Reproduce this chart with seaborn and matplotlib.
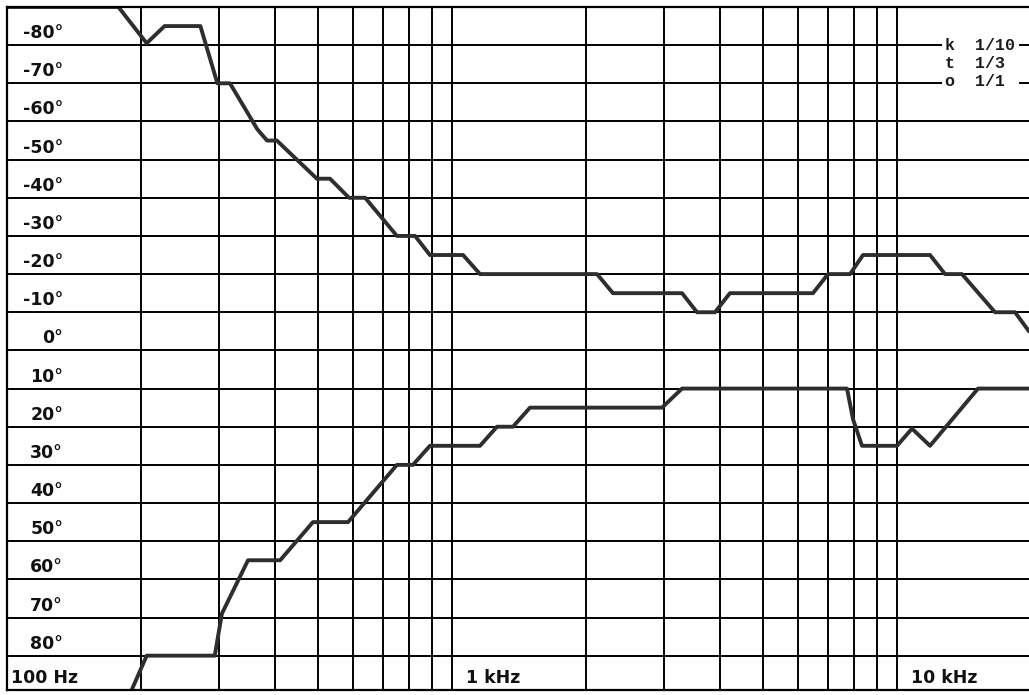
import numpy as np
import pandas as pd
import matplotlib
matplotlib.use("Agg")
import matplotlib.pyplot as plt
from matplotlib.ticker import LogLocator, NullFormatter
import seaborn as sns

# ---- data ----
upper_freq = [100, 178, 206, 226, 272, 297, 317, 365, 384, 404, 497, 532, 587, 638,
              752, 826, 892, 1059, 1156, 2118, 2300, 3288, 3553, 3899, 4213, 6474,
              6998, 7843, 8387, 11864, 12821, 13996, 16608, 18418, 19800]
upper_phase = [-90, -90, -80.5, -85, -85, -70, -70, -58, -55, -55, -45, -45, -40, -40,
               -30, -30, -25, -25, -20, -20, -15, -15, -10, -10, -15, -15,
               -20, -20, -25, -25, -20, -20, -10, -10, -5]

lower_freq = [189, 206, 293, 304, 348, 411, 487, 584, 752, 817, 892, 1156, 1262, 1371,
              1497, 2965, 3288, 7721, 7963, 8343, 10000, 10807, 11864, 15206, 19800]
lower_phase = [90, 80, 80, 69, 55, 55, 45, 45, 30, 30, 25, 25, 20, 20,
               15, 15, 10, 10, 18, 25, 25, 20.5, 25, 10, 10]

y_tick_values = [-80, -70, -60, -50, -40, -30, -20, -10, 0, 10, 20, 30, 40, 50, 60, 70, 80]
x_tick_values = [100, 1000, 10000]
x_tick_labels = ["100 Hz", "1 kHz", "10 kHz"]
legend_labels = ["k  1/10", "t  1/3 ", "o  1/1 "]
legend_phase = [-80, -75.3, -70.4]

df = pd.concat([
    pd.DataFrame({"freq": upper_freq, "phase": upper_phase, "curve": "upper"}),
    pd.DataFrame({"freq": lower_freq, "phase": lower_phase, "curve": "lower"}),
], ignore_index=True)

sns.set_style("white")
plt.rcParams["font.family"] = ["DejaVu Sans"]

W, H = 1029, 695
fig = plt.figure(figsize=(W / 100, H / 100), dpi=100)
ax = fig.add_axes([7 / W, 5 / H, 1 - 7 / W, 683 / H])

sns.lineplot(data=df, x="freq", y="phase", hue="curve", units="curve",
             estimator=None, sort=False, palette={"upper": "#2e2e2e", "lower": "#2e2e2e"},
             linewidth=2.8, legend=False, ax=ax)

ax.set_xscale("log")
ax.set_xlim(100, 10 ** (2 + 1022 / 445))
ax.set_ylim(89.0, -90)

ax.xaxis.set_major_locator(LogLocator(base=10, numticks=10))
ax.xaxis.set_minor_locator(LogLocator(base=10, subs=np.arange(2, 10), numticks=20))
ax.xaxis.set_major_formatter(NullFormatter())
ax.xaxis.set_minor_formatter(NullFormatter())
ax.set_yticks(np.arange(-80, 90, 10))
ax.set_yticklabels([])
ax.tick_params(which="both", length=0)
ax.grid(True, which="both", axis="x", color="black", linewidth=1.4)
ax.grid(True, which="major", axis="y", color="black", linewidth=1.4)
ax.set_axisbelow(True)
ax.set_xlabel("")
ax.set_ylabel("")

for s in ["top", "left", "bottom"]:
    ax.spines[s].set_visible(True)
    ax.spines[s].set_color("black")
    ax.spines[s].set_linewidth(1.6)
ax.spines["right"].set_visible(False)

# y labels inside the plot, right-aligned, just above their line
for v in y_tick_values:
    ax.annotate(f"{v}°", xy=(0, v), xycoords=("axes fraction", "data"),
                xytext=(56, 3), textcoords="offset pixels",
                ha="right", va="bottom", fontsize=12.5, fontweight="bold", color="#111111")

# x labels just right of their line, above bottom
x_label_offsets = [4, 14, 14]
for f, lab, dx in zip(x_tick_values, x_tick_labels, x_label_offsets):
    ax.annotate(lab, xy=(f, 0), xycoords=("data", "axes fraction"),
                xytext=(dx, 3), textcoords="offset pixels",
                ha="left", va="bottom", fontsize=12.5, fontweight="bold", color="#111111")

# legend-like text at upper right, on top of the grid lines
x_legend = (945 - 7) / (W - 7)
for lab, v in zip(legend_labels, legend_phase):
    ax.text(x_legend, v, lab,
            transform=ax.get_yaxis_transform(), ha="left", va="center",
            fontsize=12, family="Liberation Mono", fontweight="bold", color="#1a1a1a",
            bbox=dict(facecolor="white", edgecolor="none", pad=2.5))

fig.savefig("out.png", dpi=100)
